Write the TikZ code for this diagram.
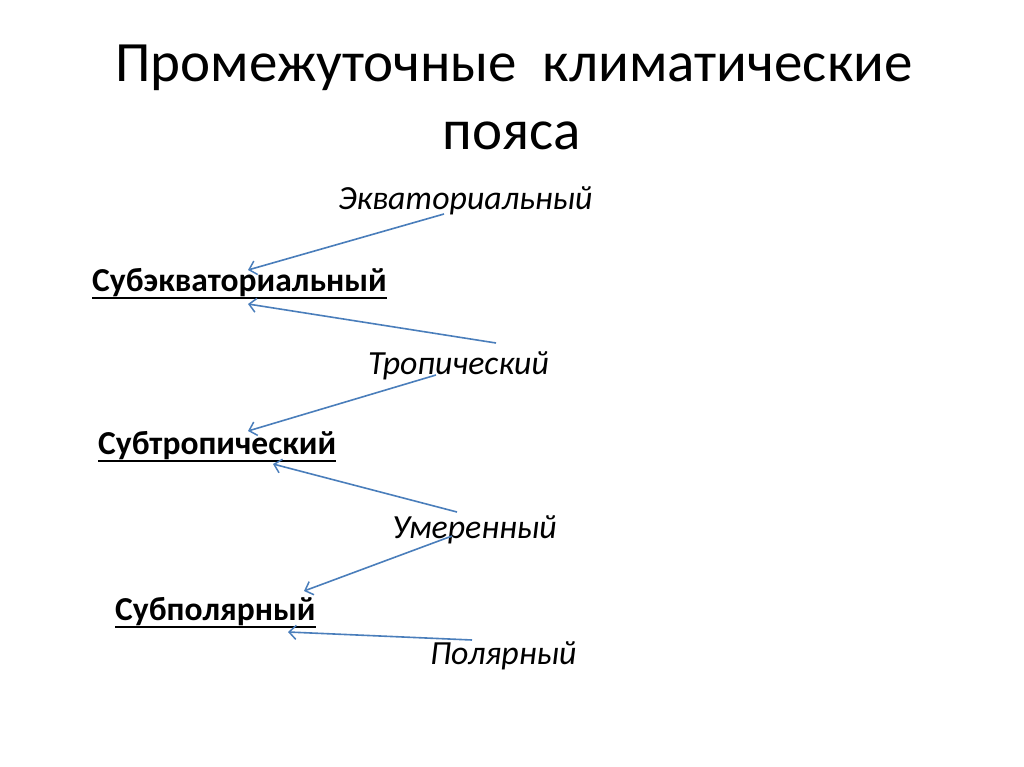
\documentclass[tikz,border=0pt]{standalone}
\usepackage{fontspec}
\setmainfont{Carlito}
\usetikzlibrary{arrows.meta}
\definecolor{arrowblue}{HTML}{4A7EBB}
\tikzset{
  titletext/.style={font=\fontsize{57}{70}\selectfont, align=center, inner sep=0pt},
  zone/.style={font=\fontsize{33.8}{38}\selectfont\itshape, anchor=base west, inner sep=0pt},
  subzone/.style={font=\fontsize{33.5}{38}\selectfont\bfseries, anchor=base west, inner sep=0pt},
  link/.style={draw=arrowblue, line width=1.6pt, -{Straight Barb[length=7pt,width=14pt,line width=1.5pt]}}
}
\newcommand{\ulbox}[1]{\setbox0\hbox{#1}\rlap{\rule[-8.3pt]{\wd0}{2.6pt}}\box0}
\begin{document}
\begin{tikzpicture}[x=1pt,y=-1pt]
\fill[white] (0,0) rectangle (1024,767);
\useasboundingbox (0,0) rectangle (1024,767);
\node[titletext, anchor=base] (t1) at (514,82) {Промежуточные\ \ климатические};
\node[titletext, anchor=base] (t2) at (512,150) {пояса};
\node[zone] (eq) at (338,210) {Экваториальный};
\node[subzone] (seq) at (92,291) {\ulbox{Субэкваториальный}};
\node[zone] (tr) at (368,374) {Тропический};
\node[subzone] (str) at (98,454) {\ulbox{Субтропический}};
\node[zone] (um) at (392,538) {Умеренный};
\node[subzone] (spo) at (115,620) {\ulbox{Субполярный}};
\node[zone] (po) at (430,664) {Полярный};
\coordinate (a1s) at (444,214);
\coordinate (a1e) at (248,270);
\coordinate (a2s) at (496,343);
\coordinate (a2e) at (248,304);
\coordinate (a3s) at (436,375);
\coordinate (a3e) at (248,431);
\coordinate (a4s) at (457,512);
\coordinate (a4e) at (273,464);
\coordinate (a5s) at (452,536);
\coordinate (a5e) at (304,591);
\coordinate (a6s) at (472,640);
\coordinate (a6e) at (288,632);
\draw[link] (a1s) -- (a1e);
\draw[link] (a2s) -- (a2e);
\draw[link] (a3s) -- (a3e);
\draw[link] (a4s) -- (a4e);
\draw[link] (a5s) -- (a5e);
\draw[link] (a6s) -- (a6e);
\end{tikzpicture}
\end{document}
